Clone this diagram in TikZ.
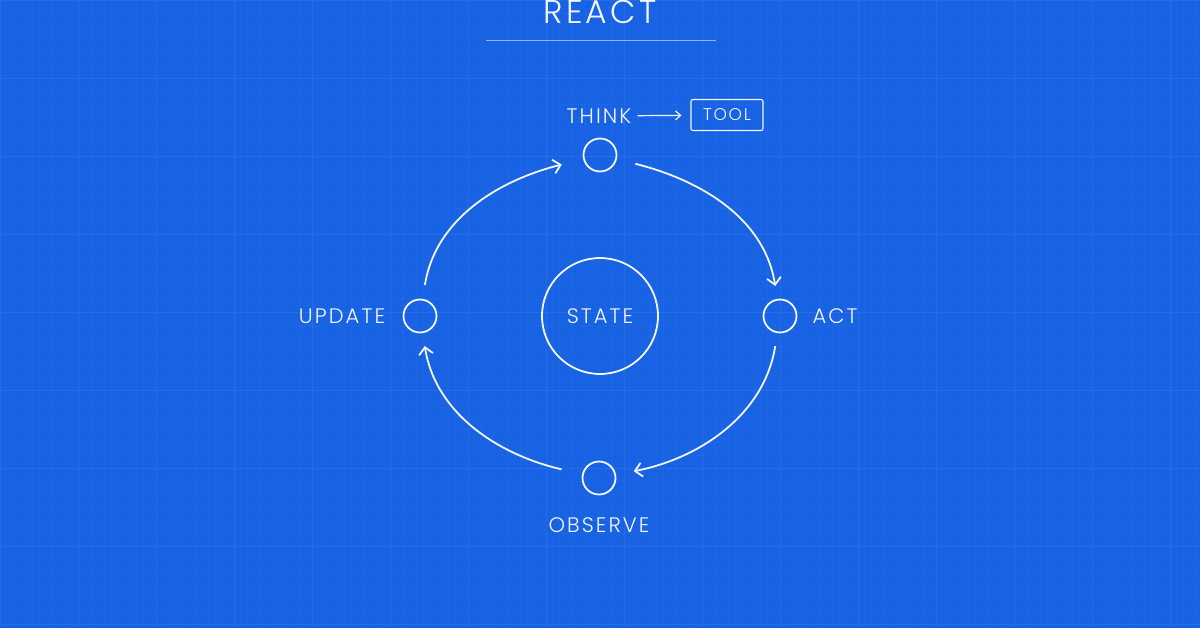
\documentclass[tikz,border=0pt]{standalone}
\usepackage{fontspec}
\setmainfont{Poppins}[UprightFont=* Light,LetterSpace=10]
\usetikzlibrary{arrows.meta}
\definecolor{bgblue}{RGB}{24,98,228}
\definecolor{ink}{RGB}{242,246,255}
\tikzset{
  dot/.style={circle,draw=ink,line width=1.8pt,minimum size=33pt,inner sep=0pt},
  lbl/.style={text=ink,font=\fontsize{21}{21}\selectfont,inner sep=0pt},
  arc/.style={draw=ink,line width=1.8pt,-{Straight Barb[length=7pt,width=14pt]}},
  toolbox/.style={draw=ink,line width=1.1pt,rounded corners=2pt,minimum width=72pt,minimum height=31pt,text=ink,font=\fontsize{17}{17}\selectfont,inner sep=0pt},
}
\begin{document}
\begin{tikzpicture}[x=1pt,y=1pt]
\useasboundingbox (0,-628) rectangle (1200,0);
\fill[bgblue] (0,-628) rectangle (1200,0);
\draw[white,opacity=0.03,line width=0.5pt] (0,-628) grid[step=13] (1200,0);
\draw[white,opacity=0.045,line width=0.8pt] (0,-628) grid[step=78] (1200,0);
% title
\node[text=ink,font=\fontsize{33}{33}\selectfont,inner sep=0pt] (title) at (600,-12) {REACT};
\coordinate (ulA) at (486,-41);
\coordinate (ulB) at (716,-41);
\draw[ink,opacity=0.55,line width=1pt] (ulA) -- (ulB);
% nodes
\node[dot] (think) at (600,-155) {};
\node[dot] (act) at (780,-316) {};
\node[dot] (observe) at (599,-478) {};
\node[dot] (update) at (420,-316) {};
\node[circle,draw=ink,line width=1.8pt,minimum size=116pt,inner sep=0pt,text=ink,font=\fontsize{21}{21}\selectfont] (state) at (600,-316) {STATE};
% labels
\node[lbl] (thinklbl) at (599,-116) {THINK};
\node[toolbox] (tool) at (727,-115) {TOOL};
\node[lbl] (updatelbl) at (342,-316) {UPDATE};
\node[lbl] (actlbl) at (835,-316) {ACT};
\node[lbl] (observelbl) at (599,-525) {OBSERVE};
% think -> tool
\draw[ink,line width=1.2pt,-{Straight Barb[length=5pt,width=9pt]},shorten <=6pt,shorten >=9pt] (thinklbl) -- (tool);
% cycle arcs
\draw[arc,shorten <=14pt,shorten >=22pt] (update) to[out=81,in=194] (think);
\draw[arc,shorten <=19pt,shorten >=13pt] (think) to[out=-14,in=99] (act);
\draw[arc,shorten <=13pt,shorten >=18pt] (act) to[out=-99,in=11] (observe);
\draw[arc,shorten <=21pt,shorten >=13pt] (observe) to[out=167,in=-81] (update);
\end{tikzpicture}
\end{document}
